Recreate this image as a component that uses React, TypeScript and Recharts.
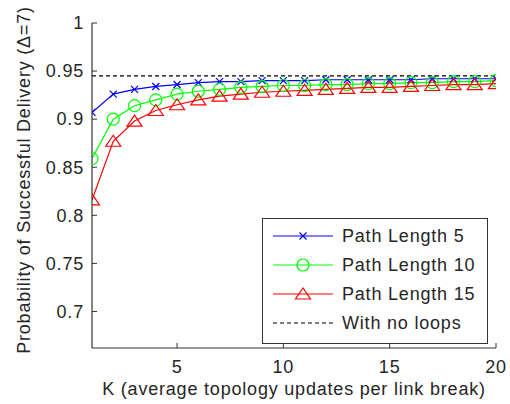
import { LineChart, Line, XAxis, YAxis } from "recharts";

// K values on the x axis
const kValues = [1, 2, 3, 4, 5, 6, 7, 8, 9, 10, 11, 12, 13, 14, 15, 16, 17, 18, 19, 20];

// probability of successful delivery per path length
const pathLength5 = [
  0.907, 0.926, 0.931, 0.934, 0.936, 0.938, 0.939, 0.939, 0.94, 0.94,
  0.94, 0.941, 0.941, 0.941, 0.941, 0.941, 0.942, 0.942, 0.942, 0.942,
];
const pathLength10 = [
  0.859, 0.9, 0.914, 0.92, 0.926, 0.929, 0.931, 0.933, 0.934, 0.935,
  0.935, 0.936, 0.936, 0.937, 0.937, 0.938, 0.938, 0.939, 0.939, 0.94,
];
const pathLength15 = [
  0.816, 0.877, 0.898, 0.909, 0.915, 0.92, 0.924, 0.926, 0.928, 0.929,
  0.93, 0.931, 0.932, 0.933, 0.933, 0.934, 0.935, 0.936, 0.936, 0.937,
];
const noLoops = [
  0.945, 0.945, 0.945, 0.945, 0.945, 0.945, 0.945, 0.945, 0.945, 0.945,
  0.945, 0.945, 0.945, 0.945, 0.945, 0.945, 0.945, 0.945, 0.945, 0.945,
];

const xTicks = [5, 10, 15, 20];
const yTicks = [0.7, 0.75, 0.8, 0.85, 0.9, 0.95, 1];

const data = kValues.map((k, i) => ({
  k,
  pl5: pathLength5[i],
  pl10: pathLength10[i],
  pl15: pathLength15[i],
  noLoops: noLoops[i],
}));

const FONT = "'Liberation Sans', Arial, Helvetica, sans-serif";
const TEXT = "#262626";
const AXIS = "#333";
const BLUE = "#0000ff";
const GREEN = "#00ff00";
const RED = "#ff0000";

// plot box (from the margins below)
const PLOT_LEFT = 92;
const PLOT_BOTTOM = 348;

const textStyle = { fontFamily: FONT, fontSize: 18, letterSpacing: 0.8, fill: TEXT };

/** markers in matlab style */
function CrossMark({ cx, cy }: { cx: number; cy: number }) {
  const s = 3.5;
  return (
    <path
      d={`M${cx - s},${cy - s}L${cx + s},${cy + s}M${cx - s},${cy + s}L${cx + s},${cy - s}`}
      stroke={BLUE}
      strokeWidth={1.2}
      fill="none"
    />
  );
}

function CircleMark({ cx, cy }: { cx: number; cy: number }) {
  return <circle cx={cx} cy={cy} r={6} stroke={GREEN} strokeWidth={1.2} fill="none" />;
}

function TriangleMark({ cx, cy }: { cx: number; cy: number }) {
  return (
    <polygon
      points={`${cx},${cy - 6} ${cx - 7.5},${cy + 5} ${cx + 7.5},${cy + 5}`}
      stroke={RED}
      strokeWidth={1.2}
      fill="none"
    />
  );
}

const crossDot = (p: any) => <CrossMark key={`c-${p.index}`} cx={p.cx} cy={p.cy} />;
const circleDot = (p: any) => <CircleMark key={`o-${p.index}`} cx={p.cx} cy={p.cy} />;
const triangleDot = (p: any) => <TriangleMark key={`t-${p.index}`} cx={p.cx} cy={p.cy} />;

/** y ticks drawn inward, like matlab */
function YTick({ y, payload }: any) {
  return (
    <g>
      <line x1={PLOT_LEFT} x2={PLOT_LEFT + 5} y1={y} y2={y} stroke={AXIS} />
      <text x={PLOT_LEFT - 8} y={y} dy="0.35em" textAnchor="end" style={textStyle}>
        {String(payload.value)}
      </text>
    </g>
  );
}

function XTick({ x, payload }: any) {
  return (
    <g>
      <line x1={x} x2={x} y1={PLOT_BOTTOM} y2={PLOT_BOTTOM - 5} stroke={AXIS} />
      <text x={x} y={PLOT_BOTTOM + 19} dy="0.35em" textAnchor="middle" style={textStyle}>
        {String(payload.value)}
      </text>
    </g>
  );
}

const legendRows = [
  { label: "Path Length 5", color: BLUE, mark: "x" },
  { label: "Path Length 10", color: GREEN, mark: "o" },
  { label: "Path Length 15", color: RED, mark: "^" },
  { label: "With no loops", color: "#000", mark: "--" },
];

function LegendBox() {
  const rowY = [236, 265, 294, 323];
  return (
    <svg
      width={510}
      height={404}
      style={{ position: "absolute", left: 0, top: 0, pointerEvents: "none" }}
    >
      <rect x={262.5} y={218.5} width={225} height={125} fill="#fff" stroke={AXIS} />
      {legendRows.map((r, i) => {
        const y = rowY[i];
        return (
          <g key={r.label}>
            <line
              x1={273}
              x2={333}
              y1={y}
              y2={y}
              stroke={r.color}
              strokeWidth={1.2}
              strokeDasharray={r.mark === "--" ? "4 3" : undefined}
            />
            {r.mark === "x" && <CrossMark cx={303} cy={y} />}
            {r.mark === "o" && <CircleMark cx={303} cy={y} />}
            {r.mark === "^" && <TriangleMark cx={303} cy={y} />}
            <text x={342} y={y} dy="0.35em" style={textStyle}>
              {r.label}
            </text>
          </g>
        );
      })}
    </svg>
  );
}

export default function App() {
  return (
    <div
      style={{
        position: "absolute",
        left: 0,
        top: 0,
        width: 510,
        height: 404,
        background: "#fff",
        fontFamily: FONT,
      }}
    >
      <LineChart
        width={510}
        height={404}
        data={data}
        margin={{ top: 23, right: 14, left: 0, bottom: 0 }}
      >
        <XAxis
          dataKey="k"
          type="number"
          domain={[1, 20]}
          ticks={xTicks}
          allowDataOverflow
          height={56}
          axisLine={{ stroke: AXIS, strokeWidth: 1.2 }}
          tickLine={false}
          tickSize={0}
          tick={<XTick />}
          label={() => (
            <text
              x={(PLOT_LEFT + 496) / 2}
              y={PLOT_BOTTOM + 41}
              dy="0.35em"
              textAnchor="middle"
              style={textStyle}
            >
              K (average topology updates per link break)
            </text>
          )}
        />
        <YAxis
          type="number"
          domain={[0.662, 1]}
          ticks={yTicks}
          allowDataOverflow
          width={92}
          axisLine={{ stroke: AXIS, strokeWidth: 1.2 }}
          tickLine={false}
          tickSize={0}
          tick={<YTick />}
          label={() => {
            const cx = 24;
            const cy = 180;
            return (
              <text
                x={cx}
                y={cy}
                textAnchor="middle"
                dy="0.35em"
                transform={`rotate(-90 ${cx} ${cy})`}
                style={textStyle}
              >
                Probability of Successful Delivery (Δ=7)
              </text>
            );
          }}
        />
        <Line
          dataKey="pl5"
          stroke={BLUE}
          strokeWidth={1.2}
          dot={crossDot}
          activeDot={false}
          isAnimationActive={false}
        />
        <Line
          dataKey="pl10"
          stroke={GREEN}
          strokeWidth={1.2}
          dot={circleDot}
          activeDot={false}
          isAnimationActive={false}
        />
        <Line
          dataKey="pl15"
          stroke={RED}
          strokeWidth={1.2}
          dot={triangleDot}
          activeDot={false}
          isAnimationActive={false}
        />
        <Line
          dataKey="noLoops"
          stroke="#000"
          strokeWidth={1.2}
          strokeDasharray="4 3"
          dot={false}
          activeDot={false}
          isAnimationActive={false}
        />
      </LineChart>
      <LegendBox />
    </div>
  );
}
